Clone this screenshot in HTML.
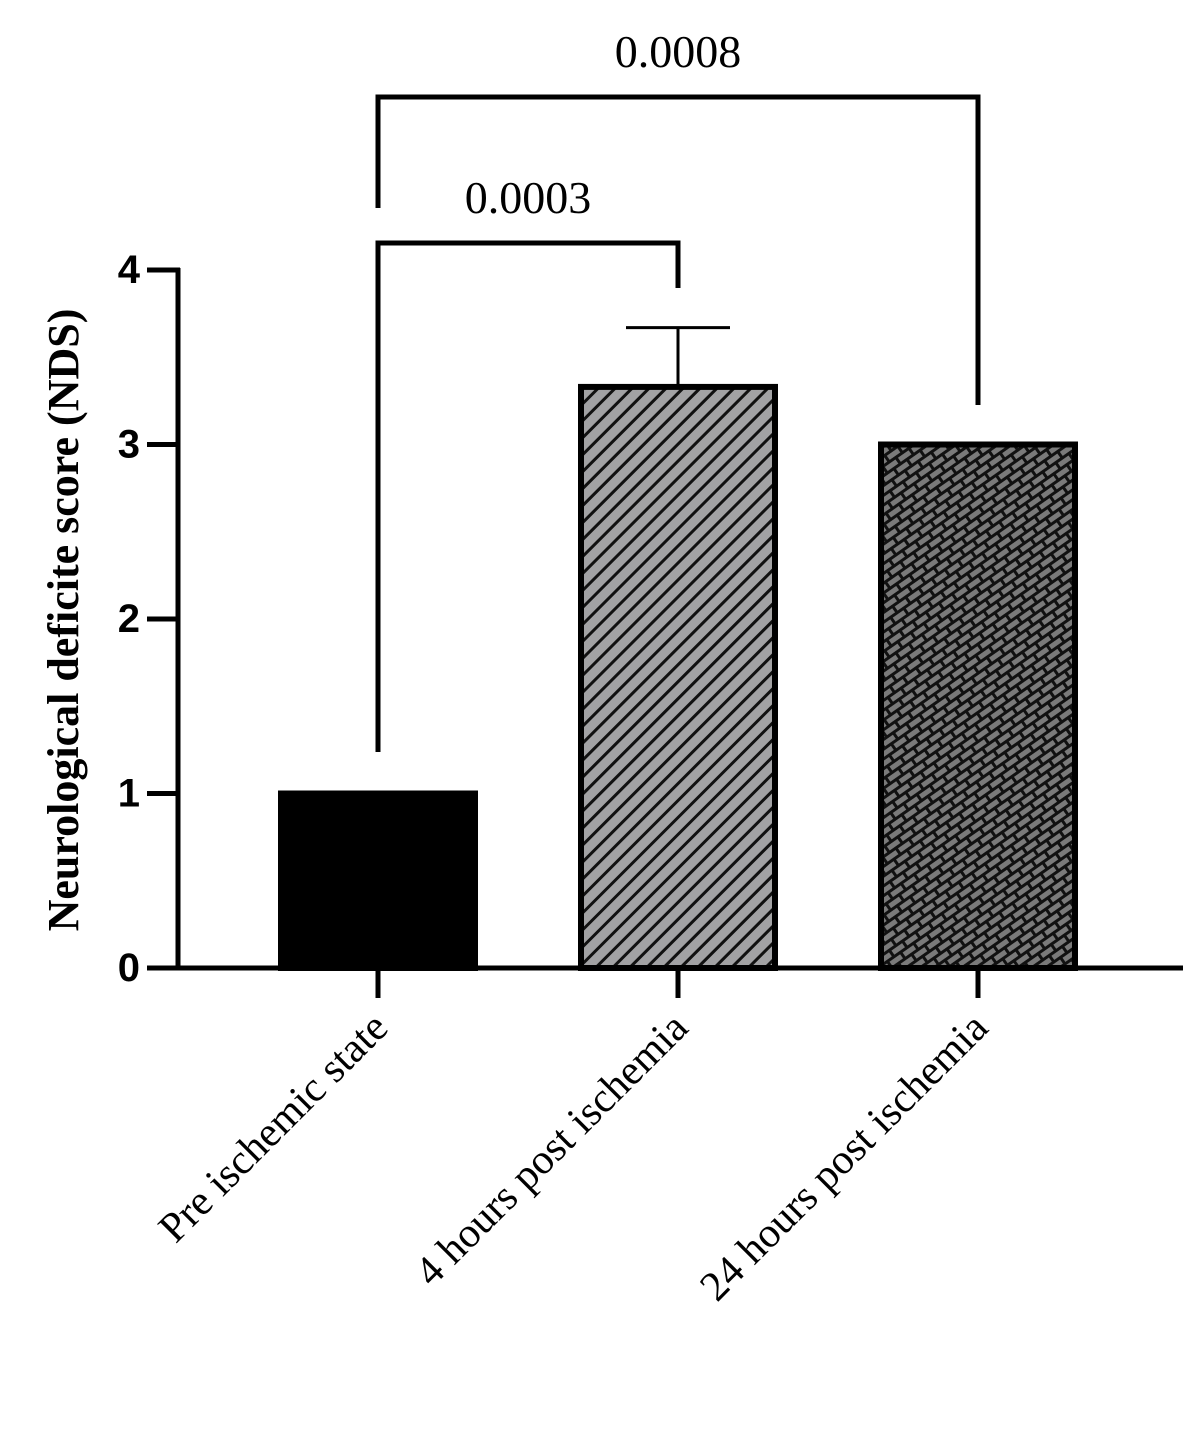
<!DOCTYPE html>
<html><head><meta charset="utf-8"><style>body{margin:0;background:#fff}svg{display:block}</style></head>
<body>
<svg id="chart" width="1200" height="1432" xmlns="http://www.w3.org/2000/svg">
<defs>
<pattern id="diag" patternUnits="userSpaceOnUse" width="12" height="12" patternTransform="rotate(45)">
<rect width="12" height="12" fill="#a2a2a4"/><rect x="0" y="0" width="3" height="12" fill="#111"/>
</pattern>
<pattern id="brick" patternUnits="userSpaceOnUse" width="16" height="16" patternTransform="rotate(-35)">
<rect width="16" height="16" fill="#111"/><rect x="1" y="2" width="13" height="5" fill="#7a7a7a"/><rect x="-7" y="10" width="13" height="5" fill="#7a7a7a"/><rect x="9" y="10" width="13" height="5" fill="#7a7a7a"/>
</pattern>
</defs>
<g id="plot"></g>
</svg>
<script>
const categories = ["Pre ischemic state", "4 hours post ischemia", "24 hours post ischemia"];
const means = [1, 3.33, 3.0];
const errors = [0, 0.34, 0];
const yTicks = [0, 1, 2, 3, 4];
const pvalues = ["0.0003", "0.0008"];
const fills = ["#000", "url(#diag)", "url(#brick)"];
const NS = "http://www.w3.org/2000/svg";
const g = document.getElementById('plot');
const y = v => 968 - v * 174.5;
const x = i => 378 + i * 300;
function el(t, a, txt){const e=document.createElementNS(NS,t);for(const k in a)e.setAttribute(k,a[k]);if(txt!==undefined)e.textContent=txt;g.appendChild(e);return e;}
// y axis
let ax = el('line',{x1:178,y1:268,x2:178,y2:968,stroke:'#000','stroke-width':5});


yTicks.forEach(v=>{
  const t = el('line',{x1:147,y1:y(v),x2:180,y2:y(v),stroke:'#000','stroke-width':5});
  
  
  const l = el('text',{x:140,y:y(v)+13,'text-anchor':'end','font-family':'Liberation Sans, sans-serif','font-weight':'bold','font-size':40},String(v));
  
  
});
let xa = el('line',{x1:147,y1:968,x2:1183,y2:968,stroke:'#000','stroke-width':5});


let yt = el('text',{transform:'translate(78,620) rotate(-90)','text-anchor':'middle','font-family':'Liberation Serif, serif','font-weight':'bold','font-size':44},'Neurological deficite score (NDS)');


categories.forEach((c,i)=>{
  const cx = x(i);
  if(errors[i]>0){
    const e1 = el('line',{x1:cx,y1:y(means[i]),x2:cx,y2:y(means[i]+errors[i]),stroke:'#000','stroke-width':3});
    
    
    const e2 = el('line',{x1:cx-52,y1:y(means[i]+errors[i]),x2:cx+52,y2:y(means[i]+errors[i]),stroke:'#000','stroke-width':3});
    
    
  }
  const b = el('rect',{x:cx-97,y:y(means[i]),width:194,height:968-y(means[i]),fill:fills[i],stroke:'#000','stroke-width':6});
  
  
  const t = el('line',{x1:cx,y1:968,x2:cx,y2:998,stroke:'#000','stroke-width':5});
  
  
  const l = el('text',{transform:`translate(${cx+12},1030) rotate(-45)`,'text-anchor':'end','font-family':'Liberation Serif, serif','font-size':42},c);
  
  
});
// significance brackets
function bracket(i1,i2,top,lowL,lowR,label){
  const p = el('polyline',{points:`${x(i1)},${lowL} ${x(i1)},${top} ${x(i2)},${top} ${x(i2)},${lowR}`,fill:'none',stroke:'#000','stroke-width':5});
  
  
  const t = el('text',{x:(x(i1)+x(i2))/2,y:top-30,'text-anchor':'middle','font-family':'Liberation Serif, serif','font-size':46},label);
  
  
}
bracket(0,1,243,752,288,pvalues[0]);
bracket(0,2,97,208,405,pvalues[1]);
</script>
</body></html>
